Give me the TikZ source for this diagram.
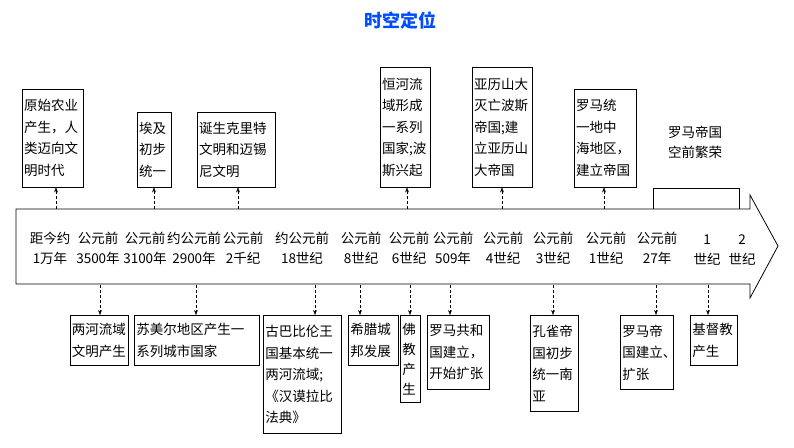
\documentclass[tikz,border=0pt]{standalone}
\usepackage{fontspec}
\setmainfont{Noto Sans CJK SC}
\usetikzlibrary{arrows.meta}
\tikzset{
  box/.style={draw,thick,inner sep=1.5pt,align=left,font=\fontsize{13.5}{21.5}\selectfont},
  tick/.style={align=center,font=\fontsize{13.5}{20}\selectfont},
  conn/.style={densely dashed,>={Stealth[length=5pt]},->}
}
\begin{document}
\begin{tikzpicture}[x=1pt,y=-1pt]
\useasboundingbox (0,0) rectangle (794,447);

% title
  \node[text=blue!70!cyan,font=\fontsize{18}{20}\selectfont\bfseries] (title) at (400,20) {时空定位};

% big arrow
  \draw[thick] (16,209) -- (750,209) -- (750,195) -- (778,246) -- (750,298) -- (750,284) -- (16,284) -- cycle;
  \coordinate (top) at (0,209);
  \coordinate (bot) at (0,285);

% dates
  \node[tick] (d1)  at (50,248)  {距今约\\1万年};
  \node[tick] (d2)  at (98,248)  {公元前\\3500年};
  \node[tick] (d3)  at (145,248) {公元前\\3100年};
  \node[tick] (d4)  at (194,248) {约公元前\\2900年};
  \node[tick] (d5)  at (243,248) {公元前\\2千纪};
  \node[tick] (d6)  at (302,248) {约公元前\\18世纪};
  \node[tick] (d7)  at (361,248) {公元前\\8世纪};
  \node[tick] (d8)  at (409,248) {公元前\\6世纪};
  \node[tick] (d9)  at (453,248) {公元前\\509年};
  \node[tick] (d10) at (503,248) {公元前\\4世纪};
  \node[tick] (d11) at (553,248) {公元前\\3世纪};
  \node[tick] (d12) at (606,248) {公元前\\1世纪};
  \node[tick] (d13) at (657,248) {公元前\\27年};
  \node[tick] (d14) at (707,250) {1\\世纪};
  \node[tick] (d15) at (742,250) {2\\世纪};

% upper events
  \node[box,minimum width=61,minimum height=98,text width=57] (u1) at (52.5,138) {原始农业\\产生，人\\类迈向文\\明时代};
  \node[box,minimum width=34,minimum height=75,text width=30] (u2) at (154,149.5) {埃及\\初步\\统一};
  \node[box,minimum width=78,minimum height=75,text width=74] (u3) at (236,149.5) {诞生克里特\\文明和迈锡\\尼文明};
  \node[box,minimum width=50,minimum height=120,text width=46] (u4) at (405,127) {恒河流\\域形成\\一系列\\国家;波\\斯兴起};
  \node[box,minimum width=60,minimum height=120,text width=56] (u5) at (502,127) {亚历山大\\灭亡波斯\\帝国;建\\立亚历山\\大帝国};
  \node[box,minimum width=62,minimum height=98,text width=58] (u6) at (605,138) {罗马统\\一地中\\海地区，\\建立帝国};
  \node[tick] (u7) at (695,142) {罗马帝国\\空前繁荣};
  \draw[thick] (653,209) -- (653,188) -- (739,188) -- (739,209);

  \foreach \n/\x in {u1/56,u2/154,u3/238,u4/407,u5/502,u6/604}
    \draw[conn] (top -| \x,0) -- (\n.south -| \x,0);

% lower events
  \node[box,minimum width=58,minimum height=50,text width=55,anchor=north west] (b1) at (70,315) {两河流域\\文明产生};
  \node[box,minimum width=125,minimum height=50,text width=121,anchor=north west] (b2) at (134,315) {苏美尔地区产生一\\系列城市国家};
  \node[box,minimum width=78,minimum height=118,text width=74,anchor=north west] (b3) at (263,315) {古巴比伦王\\国基本统一\\两河流域;\\《汉谟拉比\\法典》};
  \node[box,minimum width=50,minimum height=50,text width=46,anchor=north west] (b4) at (348,315) {希腊城\\邦发展};
  \node[box,minimum width=20,minimum height=87,text width=16,anchor=north west,font=\fontsize{13.5}{20}\selectfont] (b5) at (400,315) {佛\\教\\产\\生};
  \node[box,minimum width=62,minimum height=74,text width=58,anchor=north west] (b6) at (427,315) {罗马共和\\国建立，\\开始扩张};
  \node[box,minimum width=48,minimum height=96,text width=44,anchor=north west] (b7) at (530,315) {孔雀帝\\国初步\\统一南\\亚};
  \node[box,minimum width=53,minimum height=74,text width=49,anchor=north west] (b8) at (620,315) {罗马帝\\国建立、\\扩张};
  \node[box,minimum width=47,minimum height=50,text width=43,anchor=north west] (b9) at (690,315) {基督教\\产生};

  \foreach \n/\x in {b1/100,b2/196,b3/315,b4/360,b5/410,b6/450,b7/553,b8/656,b9/708}
    \draw[conn] (bot -| \x,0) -- (\n.north -| \x,0);

\end{tikzpicture}
\end{document}
